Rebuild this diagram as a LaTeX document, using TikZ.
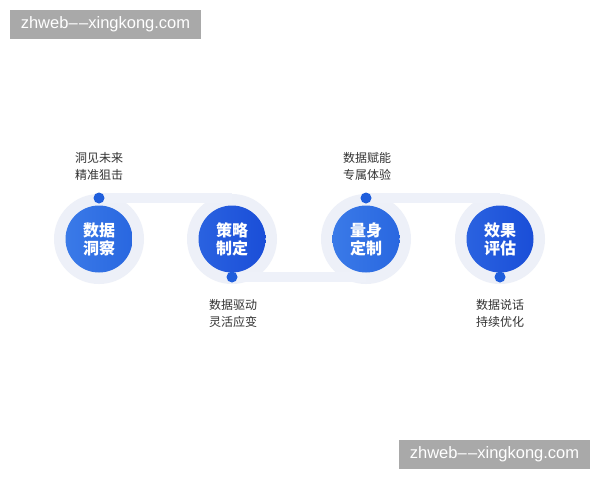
\documentclass[tikz,border=0pt]{standalone}
\usepackage{fontspec}
\setmainfont{Liberation Sans}
\newfontfamily\cjk{Noto Sans CJK SC}
\newfontfamily\wmfont{Liberation Sans}
\definecolor{ringc}{HTML}{EDF0F8}
\definecolor{bandc}{HTML}{EEF1F9}
\definecolor{dotc}{HTML}{1F5EDC}
\definecolor{labc}{HTML}{333333}
\definecolor{wmgray}{HTML}{A9A9A9}
\definecolor{blA}{HTML}{3A7AE8}
\definecolor{blB}{HTML}{2967E0}
\definecolor{bdA}{HTML}{2A62E0}
\definecolor{bdB}{HTML}{1A4ED8}
\begin{document}
\begin{tikzpicture}[x=1pt,y=-1pt,
  ring/.style={circle,fill=ringc,minimum size=90pt,inner sep=0pt},
  ball/.style={circle,minimum size=67pt,inner sep=0pt,text=white,align=center,
    font=\cjk\bfseries\fontsize{16}{18}\selectfont,shading angle=135},
  light/.style={ball,left color=blA,right color=blB},
  deep/.style={ball,left color=bdA,right color=bdB},
  dotn/.style={circle,fill=dotc,minimum size=11pt,inner sep=0pt},
  band/.style={draw=bandc,line width=10pt},
  lab/.style={align=center,text=labc,font=\cjk\fontsize{12}{17}\selectfont},
  wm/.style={fill=wmgray,text=white,minimum width=191pt,minimum height=29pt,inner sep=0pt,
    font=\wmfont\fontsize{16.5}{20}\selectfont}]
\useasboundingbox (0,0) rectangle (600,480);
\fill[white] (0,0) rectangle (600,480);
% rings
\node[ring] (r1) at (99,239) {};
\node[ring] (r2) at (232,239) {};
\node[ring] (r3) at (366,239) {};
\node[ring] (r4) at (500,239) {};
% dot anchors
\coordinate (d1c) at (99,198);
\coordinate (d2c) at (232,277);
\coordinate (d3c) at (366,198);
\coordinate (d4c) at (500,277);
% bands
\draw[band] (d1c) -- (d1c -| r2);
\draw[band] (d2c) -- (d2c -| r3);
\draw[band] (d3c) -- (d3c -| r4);
% blue circles
\node[light] (c1) at (99,239) {数据\\洞察};
\node[deep] (c2) at (232,239) {策略\\制定};
\node[light] (c3) at (366,239) {量身\\定制};
\node[deep] (c4) at (500,239) {效果\\评估};
% dots
\node[dotn] (d1) at (d1c) {};
\node[dotn] (d2) at (d2c) {};
\node[dotn] (d3) at (d3c) {};
\node[dotn] (d4) at (d4c) {};
% labels
\node[lab] (l1) at (99,166.5) {洞见未来\\精准狙击};
\node[lab] (l2) at (233,313.5) {数据驱动\\灵活应变};
\node[lab] (l3) at (367,166.5) {数据赋能\\专属体验};
\node[lab] (l4) at (500,313.5) {数据说话\\持续优化};
% watermarks
\node[wm] (w1) at (105.5,24.5) {zhweb–\kern1.5pt–xingkong.com};
\node[wm] (w2) at (494.5,454.5) {zhweb–\kern1.5pt–xingkong.com};
\end{tikzpicture}
\end{document}
